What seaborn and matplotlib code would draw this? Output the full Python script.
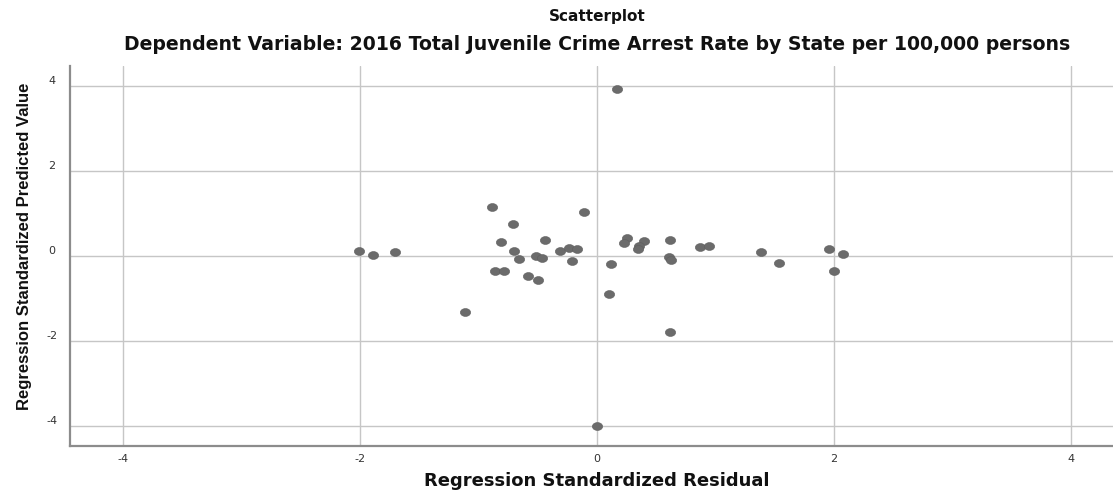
import numpy as np
import pandas as pd
import matplotlib
matplotlib.use("Agg")
import matplotlib.pyplot as plt
import matplotlib.transforms as mtransforms
from matplotlib.path import Path
from matplotlib.markers import MarkerStyle
import seaborn as sns

# Regression diagnostics: standardized residual vs standardized predicted value
std_residual = [
    0.166, -2.008, -1.890, -1.705, -0.889, -0.112, -0.711, -0.808, -0.436,
    -0.703, -0.661, -0.517, -0.467, -0.309, -0.233, -0.166, -0.208, -0.861,
    -0.785, -0.580, -0.498, -1.111, 0.121, 0.104, 0.250, 0.228, 0.397,
    0.354, 0.343, 0.616, 0.605, 0.622, 0.869, 0.945, 1.384, 1.533,
    1.960, 2.080, 2.000, 0.616, -0.003,
]
std_predicted = [
    3.910, 0.125, 0.024, 0.086, 1.146, 1.040, 0.760, 0.337, 0.376,
    0.118, -0.063, -0.008, -0.055, 0.118, 0.188, 0.157, -0.110, -0.345,
    -0.345, -0.470, -0.572, -1.310, -0.188, -0.902, 0.430, 0.300, 0.360,
    0.243, 0.165, 0.369, -0.016, -0.094, 0.205, 0.243, 0.094, -0.172,
    0.172, 0.054, -0.345, -1.795, -4.000,
]
tick_values = [-4, -2, 0, 2, 4]

title = "Scatterplot"
subtitle = "Dependent Variable: 2016 Total Juvenile Crime Arrest Rate by State per 100,000 persons"
x_label = "Regression Standardized Residual"
y_label = "Regression Standardized Predicted Value"

df = pd.DataFrame({"residual": std_residual, "predicted": std_predicted})

sns.set_theme(style="white")
plt.rcParams["font.family"] = ["DejaVu Sans"]
plt.rcParams["axes.unicode_minus"] = False

fig = plt.figure(figsize=(11.13, 4.95), dpi=100)
ax = fig.add_axes([70 / 1113, 49 / 495, 1054 / 1113, 380 / 495])

# slightly wide oval marker
oval = Path.unit_circle().transformed(mtransforms.Affine2D().scale(1.3, 1.0))
sns.scatterplot(data=df, x="residual", y="predicted", ax=ax,
                marker=MarkerStyle(oval), s=55, color="#6b6b6b",
                edgecolor="#5e5e5e", linewidth=0.4, zorder=3)

ax.set_xlim(-4.45, 4.45)
ax.set_ylim(-4.46, 4.46)
ax.set_xticks(tick_values)
ax.set_yticks(tick_values)
ax.grid(True, color="#c6c6c6", linewidth=1.0)
ax.set_axisbelow(True)

for side in ("top", "right"):
    ax.spines[side].set_visible(False)
for side in ("left", "bottom"):
    ax.spines[side].set_color("#8c8c8c")
    ax.spines[side].set_linewidth(1.6)

ax.tick_params(axis="both", length=0, labelsize=8, labelcolor="#333333")
ax.tick_params(axis="x", pad=6)
ax.tick_params(axis="y", pad=13)
for lbl in ax.get_yticklabels():
    lbl.set_horizontalalignment("center")
    lbl.set_transform(lbl.get_transform() +
                      mtransforms.ScaledTranslation(0, 6 / 100, fig.dpi_scale_trans))

ax.set_xlabel(x_label, fontsize=13, fontweight="bold", color="#111111")
ax.xaxis.set_label_coords(0.5, -26 / 380)
ax.set_ylabel(y_label, fontsize=12, fontweight="bold", color="#111111",
              family="Liberation Sans", va="center")
ax.yaxis.set_label_coords(-45 / 1054, 0.526)

fig.text(597 / 1113, 1 - 17 / 495, title, ha="center", va="center",
         fontsize=11, fontweight="bold", color="#111111")
fig.text(597 / 1113, 1 - 45 / 495, subtitle, ha="center", va="center",
         fontsize=13.6, fontweight="bold", color="#111111")

fig.savefig("out.png", dpi=100)
